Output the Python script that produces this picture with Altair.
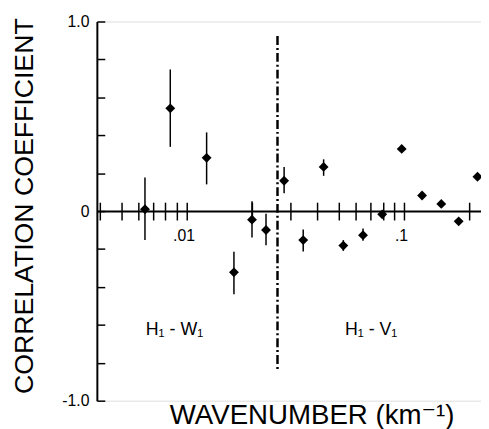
import altair as alt
import pandas as pd

# ---- data ----
wavenumber = [0.00644, 0.00842, 0.01237, 0.01652, 0.0200, 0.0232, 0.0281, 0.0344,
              0.0427, 0.0526, 0.0648, 0.0794, 0.0976, 0.1211, 0.1484, 0.1784, 0.2177]
corr = [0.01, 0.542, 0.281, -0.323, -0.045, -0.100, 0.160, -0.153,
        0.233, -0.182, -0.127, -0.017, 0.328, 0.082, 0.038, -0.054, 0.181]
err_lo = [-0.153, 0.339, 0.141, -0.439, -0.139, -0.180, 0.094, -0.213,
          0.186, -0.210, -0.156, -0.017, 0.328, 0.082, 0.038, -0.054, 0.181]
err_hi = [0.177, 0.747, 0.415, -0.214, 0.052, -0.014, 0.233, -0.097,
          0.273, -0.153, -0.092, -0.017, 0.328, 0.082, 0.038, -0.054, 0.181]

divider_k = [0.0262]
divider_top = [0.923]
divider_bottom = [-0.847]

region_labels = ["H\u2081 - W\u2081", "H\u2081 - V\u2081"]
region_k = [0.0088, 0.0706]
region_r = [-0.629, -0.629]

x_tick_values = [0.004, 0.005, 0.006, 0.007, 0.008, 0.009, 0.01,
                 0.02, 0.03, 0.04, 0.05, 0.06, 0.07, 0.08, 0.09, 0.1, 0.2]
y_tick_values = [-1.0, -0.8, -0.6, -0.4, -0.2, 0.0, 0.2, 0.4, 0.6, 0.8, 1.0]
y_label_values = [-1.0, 0.0, 1.0]

x_domain = [0.00387, 0.226]
y_domain = [-1.0, 1.0]

W, H = 389, 384
FONT = "Liberation Sans, DejaVu Sans"

pts = pd.DataFrame({"k": wavenumber, "r": corr, "lo": err_lo, "hi": err_hi})
div = pd.DataFrame({"k": divider_k, "top": divider_top, "bottom": divider_bottom})
lab = pd.DataFrame({"k": region_k, "r": region_r, "t": region_labels})

xs = alt.Scale(type="log", domain=x_domain, nice=False)
ys = alt.Scale(domain=y_domain, nice=False, zero=False)

# Layer A: diamonds, x axis at y=0 (ticks downward, labels), y axis line with labels/title
points = alt.Chart(pts).mark_point(shape="diamond", filled=True, color="black",
                                   size=100, opacity=1).encode(
    x=alt.X("k:Q", scale=xs, axis=alt.Axis(
        orient="bottom", offset=-H / 2, values=x_tick_values, tickSize=9,
        tickWidth=1.5, tickColor="black", domainColor="black", domainWidth=2,
        labelExpr="datum.value == 0.01 ? '.01' : (datum.value == 0.1 ? '.1' : '')",
        labelFont=FONT, labelFontSize=16, labelColor="black", labelPadding=8,
        labelOffset=-3, labelFlush=False, labelOverlap=False, grid=False, title=None)),
    y=alt.Y("r:Q", scale=ys, axis=alt.Axis(
        orient="left", values=y_label_values, ticks=False, tickSize=0,
        domainColor="black", domainWidth=2,
        labelExpr="datum.value == 0 ? '0' : (datum.value > 0 ? '1.0' : '-1.0')",
        labelFont=FONT, labelFontSize=16, labelColor="black", labelPadding=8,
        grid=False, title="CORRELATION COEFFICIENT", titleFont=FONT,
        titleFontSize=27, titleFontWeight="normal", titleColor="black",
        titleX=-65, titleY=186.5, titleAngle=270, titleAlign="center",
        titleBaseline="alphabetic")),
)

# Layer B: error bars, x axis ticks upward at y=0, y ticks pointing into the plot
errs = alt.Chart(pts).mark_rule(color="black", strokeWidth=1.5).encode(
    x=alt.X("k:Q", scale=xs, axis=alt.Axis(
        orient="top", offset=-H / 2, values=x_tick_values, tickSize=9,
        tickWidth=1.5, tickColor="black", domain=False, labels=False,
        grid=False, title=None)),
    y=alt.Y("lo:Q", scale=ys, axis=alt.Axis(
        orient="right", offset=-W, values=y_tick_values, tickSize=8,
        tickWidth=1.5, tickColor="black", domain=False, labels=False,
        grid=False, title=None)),
    y2="hi:Q",
)

# Layer C: dash-dot divider, x axis title at the bottom
divider = alt.Chart(div).mark_rule(color="black", strokeWidth=2.5,
                                   strokeDash=[9, 3, 2, 3]).encode(
    x=alt.X("k:Q", scale=xs, axis=alt.Axis(
        orient="bottom", offset=0, domain=False, ticks=False, labels=False,
        grid=False, title="WAVENUMBER (km\u207b\u00b9)", titleFont=FONT,
        titleFontSize=28, titleFontWeight="normal", titleColor="black",
        titleX=217.5, titleY=23, titleAlign="center", titleBaseline="alphabetic")),
    y=alt.Y("top:Q", scale=ys, axis=None),
    y2="bottom:Q",
)

texts = alt.Chart(lab).mark_text(font=FONT, fontSize=18, color="black",
                                 align="center", baseline="middle").encode(
    x=alt.X("k:Q", scale=xs, axis=None),
    y=alt.Y("r:Q", scale=ys, axis=None),
    text="t:N",
)

chart = alt.layer(points, errs, divider, texts).resolve_axis(
    x="independent", y="independent"
).properties(
    width=W, height=H,
    autosize=alt.AutoSizeParams(type="none"),
    padding={"left": 90, "top": 11, "right": 0, "bottom": 26},
).configure_view(stroke=None).configure(background="white")

chart.save("out.html", embed_options={"renderer": "svg", "actions": False})
